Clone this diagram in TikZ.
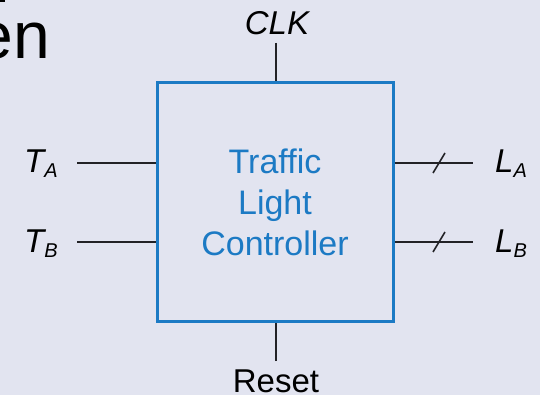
\documentclass[tikz,border=0pt]{standalone}
\usepackage{fontspec}
\setmainfont{Liberation Sans}
\definecolor{bgcol}{RGB}{226,228,240}
\definecolor{boxblue}{RGB}{28,122,196}
\definecolor{wire}{RGB}{34,34,38}
\newcommand{\lbl}[2]{{\itshape #1\raisebox{-5pt}{\fontsize{20}{20}\selectfont #2}}}
\begin{document}
\begin{tikzpicture}[x=1pt,y=-1pt,
  sig/.style={font=\fontsize{33}{40}\selectfont, text=black, inner sep=0pt},
  wireline/.style={draw=wire, line width=2pt},
  ctrlbox/.style={draw=boxblue, line width=3pt, minimum width=236pt, minimum height=238pt,
    align=center, text=boxblue, font=\fontsize{34}{41}\selectfont, inner sep=0pt}]
  % page and background
  \fill[bgcol] (0,0) rectangle (540,395);
  \useasboundingbox (0,0) rectangle (540,395);

  % leftover heading text at the top left
  \node[anchor=base east, inner sep=0pt, font=\fontsize{66}{70}\selectfont] (head) at (50,59) {en};
  \fill[black] (0,0) rectangle (4.5,2.5);

  % controller block
  \node[ctrlbox] (ctrl) at (275,202) {Traffic\\Light\\Controller};

  % clock input
  \coordinate (clkend) at (276,43);
  \draw[wireline] (clkend) -- (clkend |- ctrl.north);
  \node[sig, anchor=base] (clk) at (277,35) {\itshape CLK};

  % reset input
  \coordinate (rstend) at (276,361);
  \draw[wireline] (rstend) -- (rstend |- ctrl.south);
  \node[sig, anchor=base] (rst) at (276,392) {Reset};

  % sensor inputs
  \coordinate (tain) at (77,163);
  \coordinate (tbin) at (77,242);
  \draw[wireline] (tain) -- (tain -| ctrl.west);
  \draw[wireline] (tbin) -- (tbin -| ctrl.west);
  \node[sig, anchor=base west] (ta) at (24,173) {\lbl{T}{A}};
  \node[sig, anchor=base west] (tb) at (24,252) {\lbl{T}{B}};

  % light outputs (buses)
  \coordinate (laout) at (473,163);
  \coordinate (lbout) at (473,242);
  \draw[wireline] (laout -| ctrl.east) -- (laout);
  \draw[wireline] (lbout -| ctrl.east) -- (lbout);
  \draw[wireline, line width=1.6pt] (433,173) -- (445,153);
  \draw[wireline, line width=1.6pt] (433,252) -- (445,232);
  \node[sig, anchor=base west] (la) at (495,173) {\lbl{L}{A}};
  \node[sig, anchor=base west] (lb) at (495,252) {\lbl{L}{B}};
\end{tikzpicture}
\end{document}
